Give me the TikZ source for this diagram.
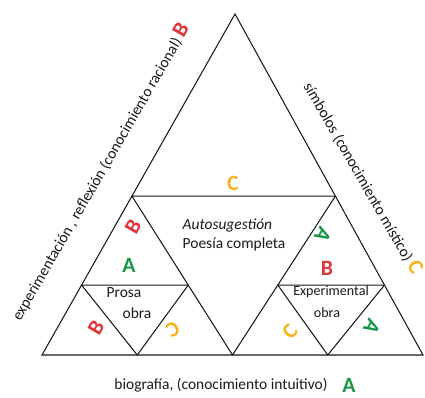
\documentclass[tikz,border=0pt]{standalone}
\usepackage{fontspec}
\setmainfont{Carlito}
\usetikzlibrary{calc}
\definecolor{letraA}{RGB}{26,150,72}
\definecolor{letraB}{RGB}{224,52,60}
\definecolor{letraC}{RGB}{245,180,30}
\definecolor{linea}{RGB}{25,25,25}
\newcommand{\grande}{\fontsize{15.5}{17}\selectfont\bfseries}

\begin{document}
\begin{tikzpicture}[x=0.025cm, y=-0.025cm,
    lado/.style={draw=linea, line width=0.75pt},
    texto/.style={font=\fontsize{11}{14}\selectfont, text=linea, inner sep=1pt},
    chico/.style={font=\fontsize{10}{12}\selectfont, text=linea, inner sep=1pt},
    letra/.style={font=\grande, inner sep=0pt}]
    \useasboundingbox (0,0) rectangle (425,398);

    % --- vertices ---
    \coordinate (A) at (42,355);
    \coordinate (B) at (423,355);
    \coordinate (C) at (235,14);
    \coordinate (P) at ($(A)!0.466!(C)$);
    \coordinate (Q) at ($(B)!0.466!(C)$);
    \coordinate (M) at ($(A)!0.5!(B)$);
    % triangulo chico izquierdo
    \coordinate (p1) at ($(A)!0.44!(P)$);
    \coordinate (p2) at ($(M)!0.44!(P)$);
    \coordinate (m1) at ($(A)!0.5!(M)$);
    % triangulo chico derecho
    \coordinate (q1) at ($(M)!0.44!(Q)$);
    \coordinate (q2) at ($(B)!0.44!(Q)$);
    \coordinate (m2) at ($(M)!0.5!(B)$);

    % --- triangulos ---
    \draw[lado] (A) -- (B) -- (C) -- cycle;
    \draw[lado] (P) -- (Q) -- (M) -- cycle;
    \draw[lado] (p1) -- (p2) -- (m1) -- cycle;
    \draw[lado] (q1) -- (q2) -- (m2) -- cycle;

    % --- textos de los lados ---
    \node[texto, rotate=60] (izq) at (100,172)
        {experimentación , reflexión (conocimiento racional) \textcolor{letraB}{\grande B}};
    \node[texto, rotate=-60] (der) at (363,178)
        {símbolos (conocimiento místico) \textcolor{letraC}{\grande C}};
    \node[texto] (abajo) at (221,385) {biografía, (conocimiento intuitivo)};
    \node[letra, text=letraA] (abajoA) at (349,385) {A};

    % --- textos interiores ---
    \node[texto, align=left] (autos) at (234,235) {\textit{Autosugestión}\\Poesía completa};
    \node[texto] (prosa) at (124,293) {Prosa};
    \node[texto] (obraI) at (137,313) {obra};
    \node[chico] (exper) at (331,292) {Experimental};
    \node[chico] (obraD) at (327,313) {obra};

    % --- letras ---
    \node[letra, text=letraC] (cArriba) at (233,183) {C};
    \node[letra, text=letraB, rotate=60] (bIzq) at (133,227) {B};
    \node[letra, text=letraA] (aIzq) at (129,265) {A};
    \node[letra, text=letraB, rotate=60] (bAbajo) at (96,328) {B};
    \node[letra, text=letraC, rotate=-150] (cIzq) at (173,330) {C};
    \node[letra, text=letraA, rotate=-120] (aDer) at (323,235) {A};
    \node[letra, text=letraB] (bDer) at (327,268) {B};
    \node[letra, text=letraC, rotate=50] (cDer) at (290,332) {C};
    \node[letra, text=letraA, rotate=-120] (aAbajo) at (372,327) {A};
\end{tikzpicture}
\end{document}
